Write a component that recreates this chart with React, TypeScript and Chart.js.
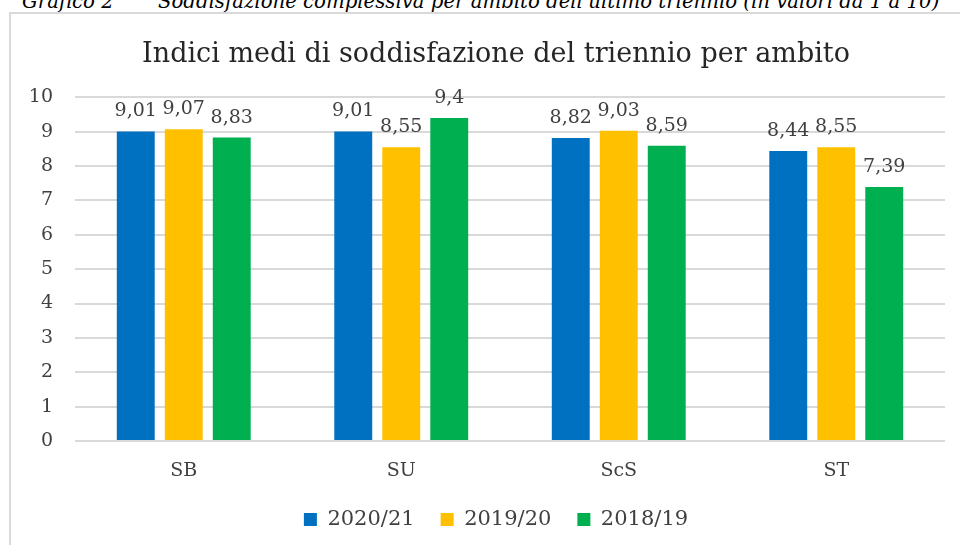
import React, { useEffect, useRef } from "react";
import { Chart, registerables } from "chart.js";

Chart.register(...registerables);

const categories = ["SB", "SU", "ScS", "ST"];
const seriesLabels = ["2020/21", "2019/20", "2018/19"];
const values2020_21 = [9.01, 9.01, 8.82, 8.44];
const values2019_20 = [9.07, 8.55, 9.03, 8.55];
const values2018_19 = [8.83, 9.4, 8.59, 7.39];
const seriesColors = ["#0070C0", "#FFC000", "#00B050"];
const yMin = 0;
const yMax = 10;
const yStep = 1;

const chartTitle = "Indici medi di soddisfazione del triennio per ambito";
const captionLabel = "Grafico 2";
const captionText =
  "Soddisfazione complessiva per ambito dell'ultimo triennio (in valori da 1 a 10)";

const NUM_FONT = '"DejaVu Serif", "Liberation Serif", serif';

const valueLabels = {
  id: "valueLabels",
  afterLayout(chart: any) {
    // let the y tick labels use the left padding without being clipped
    const y = chart.scales.y;
    if (y) y.left = 0;
  },
  afterDatasetsDraw(chart: any) {
    const ctx = chart.ctx;
    ctx.save();
    ctx.font = "19px " + NUM_FONT;
    ctx.fillStyle = "#404040";
    ctx.textAlign = "center";
    ctx.textBaseline = "alphabetic";
    chart.data.datasets.forEach((ds: any, i: number) => {
      const meta = chart.getDatasetMeta(i);
      meta.data.forEach((bar: any, j: number) => {
        const v = ds.data[j];
        ctx.fillText(String(v).replace(".", ","), bar.x, bar.y - 15);
      });
    });
    ctx.restore();
  },
};

export default function App() {
  const canvasRef = useRef<HTMLCanvasElement | null>(null);

  useEffect(() => {
    const canvas = canvasRef.current;
    if (!canvas) return;
    const seriesValues = [values2020_21, values2019_20, values2018_19];
    const chart = new Chart(canvas, {
      type: "bar",
      data: {
        labels: categories,
        datasets: seriesLabels.map((label, i) => ({
          label,
          data: seriesValues[i],
          backgroundColor: seriesColors[i],
          borderWidth: 0,
          categoryPercentage: 0.662,
          barPercentage: 0.79,
        })),
      },
      options: {
        responsive: false,
        animation: false,
        events: [],
        layout: { padding: { left: 36, right: 36, top: 0, bottom: 5 } },
        plugins: {
          title: {
            display: true,
            text: chartTitle,
            color: "#262626",
            font: { family: NUM_FONT, size: 27, weight: "normal" },
            padding: { top: 25, bottom: 26 },
          },
          legend: {
            position: "bottom",
            labels: {
              boxWidth: 13,
              boxHeight: 13,
              padding: 26,
              color: "#404040",
              font: { family: NUM_FONT, size: 21 },
            },
          },
          tooltip: { enabled: false },
        },
        scales: {
          x: {
            grid: { display: false, drawTicks: false },
            border: { display: false },
            ticks: {
              padding: 19,
              color: "#404040",
              font: { family: NUM_FONT, size: 19 },
            },
            afterFit: (s: any) => {
              s.height = 42;
            },
          },
          y: {
            min: yMin,
            max: yMax,
            ticks: {
              stepSize: yStep,
              padding: 22,
              color: "#404040",
              font: { family: NUM_FONT, size: 19 },
            },
            grid: { color: "#d9d9d9", lineWidth: 2, drawTicks: false },
            border: { display: false },
            afterFit: (s: any) => {
              s.width = 28;
            },
          },
        },
      },
      plugins: [valueLabels],
    } as any);
    return () => chart.destroy();
  }, []);

  const captionStyle: React.CSSProperties = {
    position: "absolute",
    top: -8,
    whiteSpace: "nowrap",
    fontFamily: NUM_FONT,
    fontStyle: "italic",
    fontSize: 19.7,
    lineHeight: "20px",
    color: "#000000",
  };

  return (
    <div
      style={{
        position: "fixed",
        left: 0,
        top: 0,
        width: 960,
        height: 545,
        overflow: "hidden",
        background: "#ffffff",
      }}
    >
      <div style={{ ...captionStyle, left: 22 }}>{captionLabel}</div>
      <div style={{ ...captionStyle, left: 158 }}>{captionText}</div>
      <div
        style={{
          position: "absolute",
          left: 9,
          top: 12,
          width: 1000,
          height: 600,
          borderLeft: "2px solid #d9d9d9",
          borderTop: "2px solid #d9d9d9",
          background: "#ffffff",
        }}
      />
      <canvas
        ref={canvasRef}
        width={970}
        height={531}
        style={{ position: "absolute", left: 11, top: 14, width: 970, height: 531 }}
      />
    </div>
  );
}
